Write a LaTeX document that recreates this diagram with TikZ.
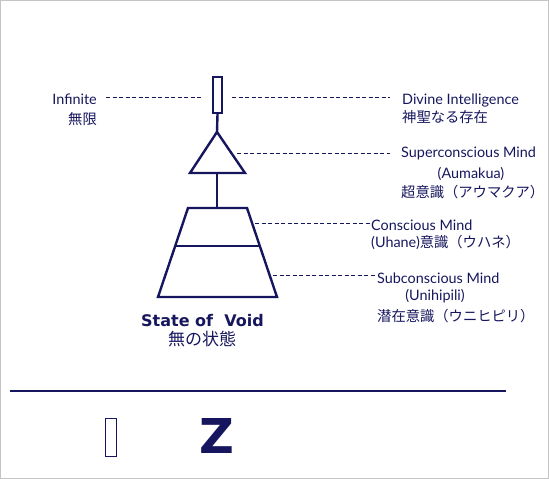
\documentclass[tikz,border=0pt]{standalone}
\usepackage{fontspec}
\setmainfont{Lato}
\newfontfamily\jpfont{Noto Sans CJK JP}
\newfontfamily\boldsans{DejaVu Sans}
\usetikzlibrary{calc}
\definecolor{ink}{RGB}{22,22,94}
\definecolor{framegray}{RGB}{196,196,196}

\tikzset{
  shapeline/.style={draw=ink, line width=2.4pt, line join=miter},
  leader/.style={draw=ink, line width=0.8pt, dash pattern=on 4pt off 2.5pt},
  en/.style={text=ink, inner sep=0pt, font=\fontsize{14.4}{17}\selectfont},
  jp/.style={text=ink, inner sep=0pt, font=\jpfont\fontsize{14.3}{17}\selectfont},
}

\begin{document}
\begin{tikzpicture}[x=1pt,y=-1pt]
\useasboundingbox (0,0) rectangle (549,479);
\draw[framegray, line width=1pt] (0.5,0.5) rectangle (548.5,478.5);

% the figure: bar, triangle, trapezoid
\node[shapeline, inner sep=0pt, minimum width=9.5pt, minimum height=36pt] (bar) at (217.5,95) {};
\coordinate (apex) at (217,132);
\coordinate (triL) at (190,173);
\coordinate (triR) at (245,173);
\draw[shapeline] (apex) -- (triR) -- (triL) -- cycle;
\coordinate (tribase) at (217,173);
\coordinate (tl) at (188,208);
\coordinate (tr) at (247,208);
\coordinate (bl) at (158,297);
\coordinate (br) at (277,297);
\draw[shapeline] (tl) -- (tr) -- (br) -- (bl) -- cycle;
\draw[shapeline] ($(tl)!0.427!(bl)$) -- ($(tr)!0.427!(br)$);
\coordinate (traptop) at (217,208);
\draw[shapeline] (bar.south) -- (apex);
\draw[shapeline] (tribase) -- (traptop);

% left labels
\node[en, anchor=base east] (infinite) at (97,104) {Infinite};
\node[jp, anchor=east] (mugen) at (97,119) {無限};

% right labels
\node[en, anchor=base west] (divine) at (402,104) {Divine Intelligence};
\node[jp, anchor=west] (divinejp) at (402,117) {神聖なる存在};
\node[en, anchor=base west] (supermind) at (401,157) {Superconscious Mind};
\node[en, anchor=base] (aumakua) at (471,178) {(Aumakua)};
\node[jp, anchor=west] (superjp) at (401,192) {超意識（アウマクア）};
\node[en, anchor=base west] (conmind) at (371,230) {Conscious Mind};
\node[en, anchor=base west] (uhane) at (371,247.5) {(Uhane){\jpfont\fontsize{14.3}{17}\selectfont 意識（ウハネ）}};
\node[en, anchor=base west] (submind) at (377,283) {Subconscious Mind};
\node[en, anchor=base] (unihipili) at (435,300.5) {(Unihipili)};
\node[jp, anchor=west] (subjp) at (377,316) {潜在意識（ウニヒピリ）};

% bottom caption
\node[text=ink, inner sep=0pt, font=\boldsans\bfseries\fontsize{16}{18}\selectfont, anchor=base] (void) at (202.5,326) {State of\ \ Void};
\node[text=ink, inner sep=0pt, font=\jpfont\fontsize{17}{20}\selectfont] (voidjp) at (202,339.5) {無の状態};

% dashed leaders
\coordinate (infL) at (106,97);
\coordinate (barL) at (201,97);
\coordinate (barR) at (232,97);
\coordinate (divL) at (390,97);
\coordinate (triP) at (237,153);
\coordinate (supL) at (390,153);
\coordinate (conP) at (255,223);
\coordinate (conL) at (370,223);
\coordinate (subP) at (273,275);
\coordinate (subL) at (375,275);
\draw[leader] (infL) -- (barL);
\draw[leader] (barR) -- (divL);
\draw[leader] (triP) -- (supL);
\draw[leader] (conP) -- (conL);
\draw[leader] (subP) -- (subL);

% rule and glyphs below
\coordinate (ruleL) at (10,391);
\coordinate (ruleR) at (506,391);
\draw[ink, line width=2pt] (ruleL) -- (ruleR);
\node[draw=ink, line width=1.3pt, inner sep=0pt, minimum width=10.7pt, minimum height=37.7pt] (tofu) at (111,437.5) {};
\node[text=ink, inner sep=0pt, font=\boldsans\bfseries\fontsize{48}{48}\selectfont, anchor=base] (zee) at (217,453) {Z};
\end{tikzpicture}
\end{document}
